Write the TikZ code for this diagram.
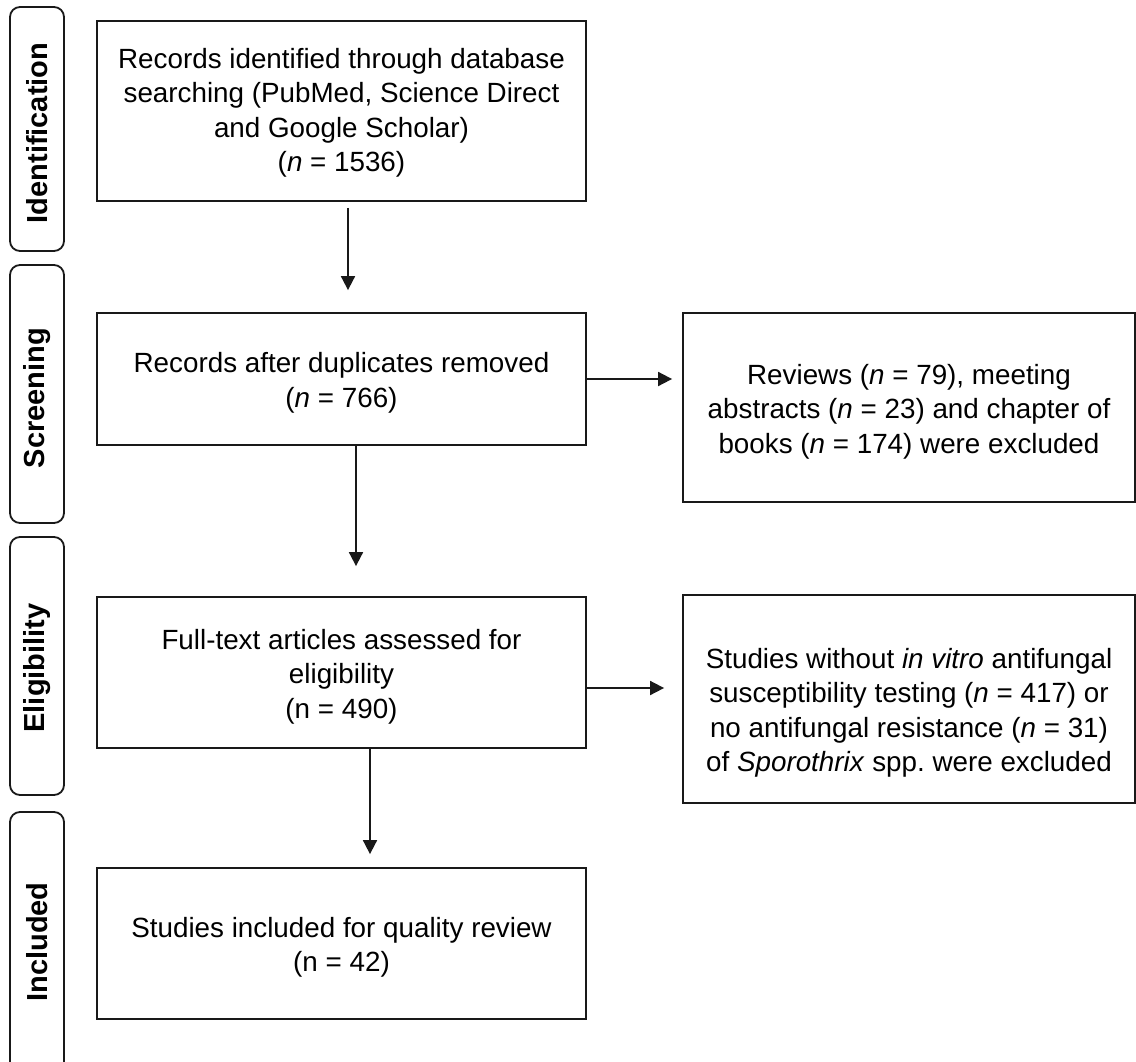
\documentclass[tikz,border=0pt]{standalone}
\usepackage{fontspec}
\setmainfont{Liberation Sans}
\usetikzlibrary{arrows.meta}
\begin{document}
\begin{tikzpicture}[x=1pt,y=-1pt,
  box/.style={draw=black!90, line width=1.8pt, minimum width=489pt, inner sep=0pt},
  rbox/.style={box, minimum width=452pt},
  txt/.style={align=center, font=\fontsize{27.8}{34.5}\selectfont, inner sep=0pt, yshift=-4pt},
  lab/.style={draw=black!90, line width=1.8pt, rounded corners=10pt, rotate=90,
    minimum height=54pt, inner sep=0pt, font=\bfseries\fontsize{29}{35}\selectfont},
  arr/.style={draw=black!90, line width=1.8pt, -{Triangle[length=14pt,width=14pt]}}
]
\useasboundingbox (0,0) rectangle (1136,1061);
\clip (0,0) rectangle (1136,1061);

% phase labels
\node[lab, minimum width=244pt] (lid) at (37,129) {\kern-8pt Identification};
\node[lab, minimum width=258pt] (lsc) at (37,394) {\kern-8pt Screening};
\node[lab, minimum width=258pt] (lel) at (37,666) {\kern-4pt Eligibility};
\node[lab, minimum width=260pt] (lin) at (37,942) {Included};

% main boxes
\node[box, minimum height=180pt, label={[txt, yshift=2pt]center:{Records identified through database\\searching (PubMed, Science Direct\\and Google Scholar)\\(\textit{n} = 1536)}}] (b1) at (341.5,111) {};
\node[box, minimum height=132pt, label={[txt]center:{Records after duplicates removed\\(\textit{n} = 766)}}] (b2) at (341.5,379) {};
\node[box, minimum height=151pt, label={[txt]center:{Full-text articles assessed for\\eligibility\\(n = 490)}}] (b3) at (341.5,672.5) {};
\node[box, minimum height=151pt, label={[txt]center:{Studies included for quality review\\(n = 42)}}] (b4) at (341.5,943.5) {};

% exclusion boxes
\node[rbox, minimum height=189pt, label={[txt]center:{Reviews (\textit{n} = 79), meeting\\abstracts (\textit{n} = 23) and chapter of\\books (\textit{n} = 174) were excluded}}] (r1) at (909,407.5) {};
\node[rbox, minimum height=208pt, label={[txt, yshift=-10pt]center:{Studies without \textit{in vitro} antifungal\\susceptibility testing (\textit{n} = 417) or\\no antifungal resistance (\textit{n} = 31)\\of \textit{Sporothrix} spp.\ were excluded}}] (r2) at (909,699) {};

% connectors
\draw[arr, shorten <=6pt, shorten >=22pt] ([xshift=6.5pt]b1.south) -- ([xshift=6.5pt]b2.north);
\draw[arr, shorten >=30pt] ([xshift=14.5pt]b2.south) -- ([xshift=14.5pt]b3.north);
\draw[arr, shorten >=13pt] ([xshift=28.5pt]b3.south) -- ([xshift=28.5pt]b4.north);
\draw[arr, shorten >=10pt] (b2.east) -- (b2.east -| r1.west);
\draw[arr, shorten >=18pt] ([yshift=-15.5pt]b3.east) -- ([yshift=-15.5pt]b3.east -| r2.west);
\end{tikzpicture}
\end{document}
